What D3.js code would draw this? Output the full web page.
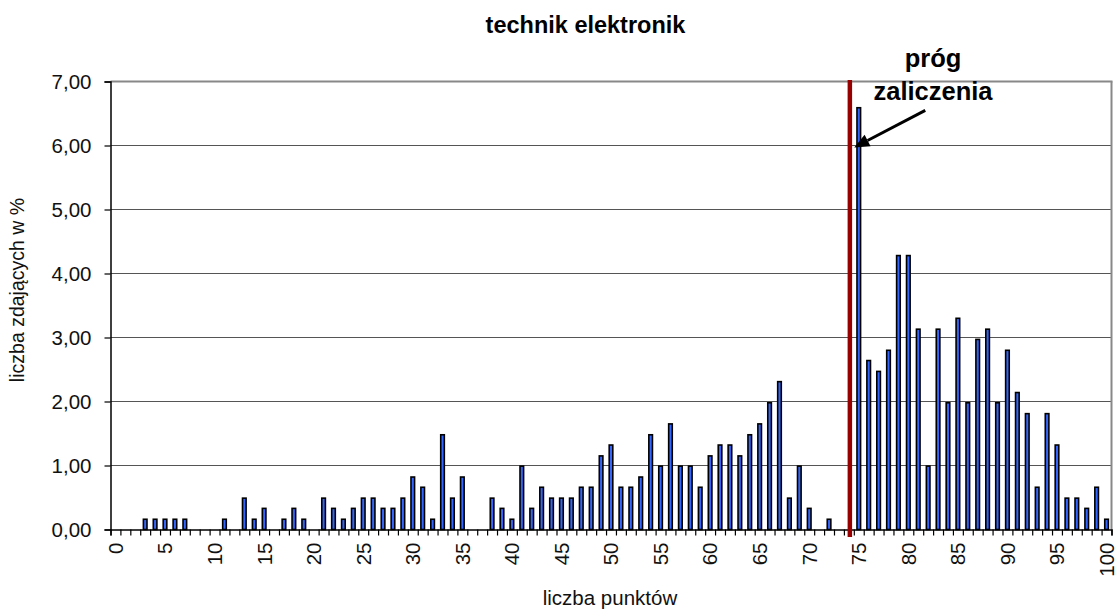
<!DOCTYPE html>
<html><head><meta charset="utf-8">
<script src="https://cdn.jsdelivr.net/npm/d3@7"></script>
<style>
html,body{margin:0;padding:0;background:#fff;}
svg{display:block;font-family:Arial,"Liberation Sans",sans-serif;}
</style>
</head><body>
<svg id="chart" width="1115" height="609"></svg>
<script>
// ---------- data ----------
const chartTitle = "technik elektronik";
const xTitle = "liczba punktów";
const yTitle = "liczba zdających w %";
const categories = d3.range(0, 101);
const values = [
  0,0,0,0.16,0.16,0.16,0.16,0.16,0,0,          // 0-9
  0,0.16,0,0.49,0.16,0.33,0,0.16,0.33,0.16,    // 10-19
  0,0.49,0.33,0.16,0.33,0.49,0.49,0.33,0.33,0.49, // 20-29
  0.82,0.66,0.16,1.48,0.49,0.82,0,0,0.49,0.33, // 30-39
  0.16,0.99,0.33,0.66,0.49,0.49,0.49,0.66,0.66,1.15, // 40-49
  1.32,0.66,0.66,0.82,1.48,0.99,1.65,0.99,0.99,0.66, // 50-59
  1.15,1.32,1.32,1.15,1.48,1.65,1.98,2.31,0.49,0.99, // 60-69
  0.33,0,0.16,0,0,6.59,2.64,2.47,2.80,4.28,    // 70-79
  4.28,3.13,0.99,3.13,1.98,3.30,1.98,2.97,3.13,1.98, // 80-89
  2.80,2.14,1.81,0.66,1.81,1.32,0.49,0.49,0.33,0.66, // 90-99
  0.16                                          // 100
];
const yTickValues = [0,1,2,3,4,5,6,7];
const xTickLabels = [0,5,10,15,20,25,30,35,40,45,50,55,60,65,70,75,80,85,90,95,100];
const thresholdCategory = 74;
const annotationLines = ["próg", "zaliczenia"];

// ---------- layout ----------
const svg = d3.select("#chart");
const plot = {left:110.5, right:1111.5, top:81.5, bottom:529.5};

const x = d3.scaleBand().domain(categories).range([plot.left, plot.right]).padding(0);
const xEdges = d3.scaleLinear().domain([0, categories.length]).range([plot.left, plot.right]);
const y = d3.scaleLinear().domain([0, 7]).range([plot.bottom, plot.top]);
const bw = x.bandwidth();

// gridlines
svg.append("g").selectAll("line")
  .data(yTickValues.filter(v => v > 0 && v < 7))
  .join("line")
  .attr("x1", plot.left).attr("x2", plot.right)
  .attr("y1", d => y(d)).attr("y2", d => y(d))
  .attr("stroke", "#555").attr("stroke-width", 1);

// top & right frame (grey)
svg.append("line").attr("x1", plot.left).attr("x2", plot.right + 1)
  .attr("y1", y(7)).attr("y2", y(7)).attr("stroke", "#888").attr("stroke-width", 2);
svg.append("line").attr("x1", plot.right).attr("x2", plot.right)
  .attr("y1", y(7)).attr("y2", y(0)).attr("stroke", "#888").attr("stroke-width", 2);

// bars
const data = categories.map((c, i) => ({c, v: values[i]})).filter(d => d.v > 0);
svg.append("g").selectAll("rect")
  .data(data)
  .join("rect")
  .attr("x", d => x(d.c) + bw / 2 - 1.8)
  .attr("width", 3.6)
  .attr("y", d => y(d.v))
  .attr("height", d => y(0) - y(d.v))
  .attr("fill", "#3366ff")
  .attr("stroke", "#000")
  .attr("stroke-width", 1.6);

// y axis
const yAxis = svg.append("g").attr("transform", `translate(${plot.left},0)`)
  .call(d3.axisLeft(y).tickValues(yTickValues).tickSize(6).tickPadding(13)
    .tickFormat(d => d3.format(".2f")(d).replace(".", ",")));
yAxis.select(".domain").attr("stroke", "#000").attr("stroke-width", 1.5);
yAxis.selectAll(".tick line").attr("stroke", "#000").attr("stroke-width", 1.2);
yAxis.selectAll("text").attr("font-size", 20.5).attr("fill", "#111")
  .attr("font-family", 'Arial,"Liberation Sans",sans-serif');

// x axis ticks at category edges
const xAxis = svg.append("g").attr("transform", `translate(0,${plot.bottom})`)
  .call(d3.axisBottom(xEdges).tickValues(d3.range(0, categories.length + 1)).tickSize(6).tickFormat(""));
xAxis.select(".domain").attr("stroke", "#000").attr("stroke-width", 1.5);
xAxis.selectAll(".tick line").attr("stroke", "#000").attr("stroke-width", 1.2);

// x labels
const xLab = svg.append("g").attr("transform", `translate(0,${plot.bottom})`)
  .call(d3.axisBottom(x).tickValues(xTickLabels).tickSize(0).tickFormat(d => String(d)));
xLab.select(".domain").remove();
xLab.selectAll("text")
  .attr("font-size", 20.5).attr("fill", "#111")
  .attr("font-family", 'Arial,"Liberation Sans",sans-serif')
  .attr("transform", "rotate(-90)")
  .attr("x", -13).attr("y", 0).attr("dy", "0.36em")
  .style("text-anchor", "end");

// threshold line
const tx = x(thresholdCategory) + bw * 0.6;
svg.append("line")
  .attr("x1", tx).attr("x2", tx)
  .attr("y1", y(7) - 1.5).attr("y2", y(0) + 7.5)
  .attr("stroke", "#960000").attr("stroke-width", 4.5);

// arrow
const tipX = x(thresholdCategory + 1) + bw / 2 - 4.5, tipY = y(5.97);
const startX = tipX + 71, startY = tipY - 37;
const ang = Math.atan2(tipY - startY, tipX - startX);
const headLen = 15, headHalf = 6.5;
const bx = tipX - headLen * Math.cos(ang), by = tipY - headLen * Math.sin(ang);
svg.append("line").attr("x1", startX).attr("y1", startY).attr("x2", bx).attr("y2", by)
  .attr("stroke", "#000").attr("stroke-width", 3);
svg.append("path")
  .attr("d", `M${tipX},${tipY}L${bx - headHalf * Math.sin(ang)},${by + headHalf * Math.cos(ang)}L${bx + headHalf * Math.sin(ang)},${by - headHalf * Math.cos(ang)}Z`)
  .attr("fill", "#000");

// annotation text
svg.append("g").selectAll("text").data(annotationLines).join("text")
  .attr("x", 933).attr("y", (d, i) => 66.5 + i * 33)
  .attr("text-anchor", "middle").attr("font-weight", "bold").attr("font-size", 25.5)
  .attr("fill", "#000").text(d => d);

// titles
svg.append("text").attr("x", 585.5).attr("y", 33).attr("text-anchor", "middle")
  .attr("font-weight", "bold").attr("font-size", 23.5).attr("fill", "#000").text(chartTitle);
svg.append("text").attr("x", 610).attr("y", 605).attr("text-anchor", "middle")
  .attr("font-size", 20.5).attr("fill", "#111").text(xTitle);
svg.append("text").attr("transform", "translate(24,290) rotate(-90)").attr("text-anchor", "middle")
  .attr("font-size", 19.5).attr("fill", "#111").text(yTitle);
</script>
</body></html>
